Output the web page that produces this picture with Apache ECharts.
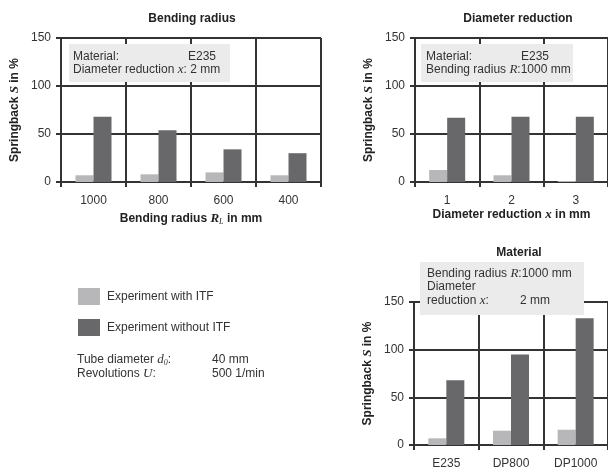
<!DOCTYPE html>
<html>
<head>
<meta charset="utf-8">
<script src="https://cdn.jsdelivr.net/npm/echarts@6/dist/echarts.min.js"></script>
<style>html,body{margin:0;padding:0;background:#fff}#c{width:608px;height:470px}</style>
</head>
<body>
<div id="c"></div>
<script>
// ---- data ----
const radiusCats = ['1000', '800', '600', '400'];
const radiusWith = [7, 8, 10, 7];
const radiusWithout = [68, 54, 34, 30];

const diamCats = ['1', '2', '3'];
const diamWith = [12.5, 7, 1];
const diamWithout = [67, 68, 68];

const matCats = ['E235', 'DP800', 'DP1000'];
const matWith = [7, 15, 16];
const matWithout = [68, 95, 133];

const yTicks = [0, 50, 100, 150];
const seriesNames = ['Experiment with ITF', 'Experiment without ITF'];

// ---- styles ----
const SANS = '"Liberation Sans", Arial, sans-serif';
const SERIF = '"Liberation Serif", "Times New Roman", serif';
const LINE = '#333';
const TXT = '#333';
const LIGHT = '#b7b7ba';
const DARK = '#68686b';

const nameRich = {
  b: { fontFamily: SANS, fontWeight: 'bold', fontSize: 12, color: '#222' },
  i: { fontFamily: SERIF, fontStyle: 'italic', fontWeight: 'bold', fontSize: 13, color: '#222' },
  s: { fontFamily: SERIF, fontStyle: 'italic', fontSize: 8, color: '#222', padding: [6, 0, 0, 0] }
};

function xAxis(idx, cats, name, gap) {
  return {
    type: 'category', gridIndex: idx, data: cats,
    axisLine: { lineStyle: { color: LINE, width: 2 } },
    axisTick: { show: true, interval: 0, length: 5, lineStyle: { color: LINE, width: 2 } },
    axisLabel: { interval: 0, margin: 13, fontFamily: SANS, fontSize: 12, color: TXT },
    splitLine: { show: true, interval: 0, lineStyle: { color: LINE, width: 2 } },
    name: name, nameLocation: 'middle', nameGap: gap,
    nameTextStyle: { rich: nameRich }
  };
}
function yAxis(idx) {
  return {
    type: 'value', gridIndex: idx, min: yTicks[0], max: yTicks[yTicks.length - 1], interval: 50,
    axisLine: { show: true, lineStyle: { color: LINE, width: 2 } },
    axisTick: { show: true, length: 5, lineStyle: { color: LINE, width: 2 } },
    axisLabel: { margin: 10, fontFamily: SANS, fontSize: 12, color: TXT },
    splitLine: { show: true, lineStyle: { color: LINE, width: 2 } },
    name: '{b|Springback }{i|S}{b| in %}', nameLocation: 'middle', nameGap: 40, nameRotate: 90,
    nameTextStyle: { rich: nameRich }
  };
}
function bars(idx, w, wo) {
  const common = { type: 'bar', xAxisIndex: idx, yAxisIndex: idx, barWidth: 18, barGap: '0%', animation: false };
  return [
    Object.assign({ name: seriesNames[0], data: w, itemStyle: { color: LIGHT } }, common),
    Object.assign({ name: seriesNames[1], data: wo, itemStyle: { color: DARK } }, common)
  ];
}

const boxText = { fontFamily: SANS, fontSize: 12, fill: TXT };
const rich = {
  i: { fontFamily: SERIF, fontStyle: 'italic', fontSize: 13, color: TXT },
  s: { fontFamily: SERIF, fontStyle: 'italic', fontSize: 8, color: TXT, padding: [5, 0, 0, 0] }
};
function txt(x, y, text) {
  return { type: 'text', z: 101, x: x, y: y,
    style: Object.assign({ text: text, verticalAlign: 'middle', rich: rich }, boxText) };
}
function rect(x, y, w, h) {
  return { type: 'rect', z: 100, shape: { x: x, y: y, width: w, height: h }, style: { fill: '#ebebeb' } };
}

const option = {
  animation: false,
  title: [
    { text: 'Bending radius', left: 187, top: 8, textAlign: 'center', textStyle: { fontFamily: SANS, fontSize: 12, fontWeight: 'bold', color: '#222' } },
    { text: 'Diameter reduction', left: 513, top: 8, textAlign: 'center', textStyle: { fontFamily: SANS, fontSize: 12, fontWeight: 'bold', color: '#222' } },
    { text: 'Material', left: 514, top: 242, textAlign: 'center', textStyle: { fontFamily: SANS, fontSize: 12, fontWeight: 'bold', color: '#222' } }
  ],
  legend: {
    orient: 'vertical', left: 73, top: 283, itemWidth: 22, itemHeight: 17, itemGap: 14,
    icon: 'rect', selectedMode: false, data: seriesNames,
    textStyle: { fontFamily: SANS, fontSize: 12, color: TXT, padding: [0, 0, 0, 2] }
  },
  grid: [
    { left: 61, top: 38, width: 260, height: 144 },
    { left: 415, top: 38, width: 194, height: 144 },
    { left: 414, top: 302, width: 195, height: 146 }
  ],
  xAxis: [
    xAxis(0, radiusCats, '{b|Bending radius }{i|R}{s|L}{b| in mm}', 30),
    xAxis(1, diamCats, '{b|Diameter reduction }{i|x}{b| in mm}', 26),
    xAxis(2, matCats, '', 20)
  ],
  yAxis: [yAxis(0), yAxis(1), yAxis(2)],
  series: [].concat(bars(0, radiusWith, radiusWithout), bars(1, diamWith, diamWithout), bars(2, matWith, matWithout)),
  graphic: [
    rect(69, 44, 161, 38),
    txt(73, 57, 'Material:'), txt(188, 57, 'E235'),
    txt(73, 70, 'Diameter reduction {i|x}: 2 mm'),
    rect(421, 44, 152, 38),
    txt(426, 57, 'Material:'), txt(521, 57, 'E235'),
    txt(426, 70, 'Bending radius {i|R}:1000 mm'),
    rect(420, 262, 164, 53),
    txt(427, 274, 'Bending radius {i|R}:1000 mm'),
    txt(427, 287, 'Diameter'),
    txt(427, 301, 'reduction {i|x}:'), txt(520, 301, '2 mm'),
    txt(77, 360, 'Tube diameter {i|d}{s|0}:'), txt(212, 360, '40 mm'),
    txt(77, 374, 'Revolutions {i|U}:'), txt(212, 374, '500 1/min')
  ]
};
const chart = echarts.init(document.getElementById('c'), null, { renderer: 'canvas' });
chart.setOption(option);
</script>
</body>
</html>
